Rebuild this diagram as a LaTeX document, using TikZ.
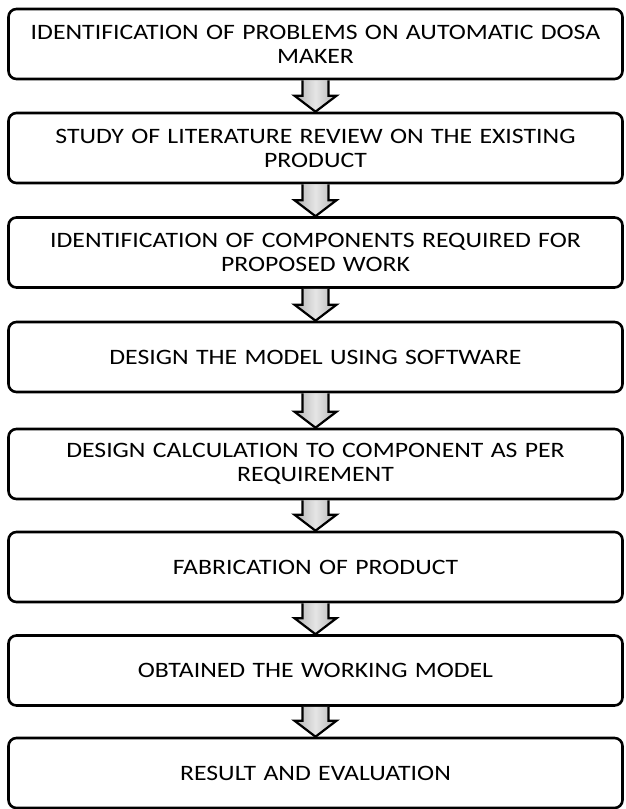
\documentclass[tikz,border=0pt]{standalone}
\usepackage{fontspec}
\setmainfont{Carlito}[FakeStretch=1.17]
\usetikzlibrary{calc}

\begin{document}
\begin{tikzpicture}[x=1pt, y=-1pt,
  box/.style={draw, line width=2.6pt, rounded corners=8pt, minimum width=614pt,
    minimum height=70pt, text width=600pt, align=center, inner sep=0pt,
    font=\fontsize{22}{24}\selectfont},
  blockarrow/.style={draw, line width=2.2pt, line join=miter,
    left color=gray!60, right color=gray!60, middle color=gray!20}]
\useasboundingbox (0,0) rectangle (625,809); % размер картинки
\node[box] (b1) at (315.5,44)    {IDENTIFICATION OF PROBLEMS ON AUTOMATIC DOSA\\ MAKER};
\node[box] (b2) at (315.5,148)   {STUDY OF LITERATURE REVIEW ON THE EXISTING\\ PRODUCT};
\node[box] (b3) at (315.5,252.5) {IDENTIFICATION OF COMPONENTS REQUIRED FOR\\ PROPOSED WORK};
\node[box] (b4) at (315.5,357)   {DESIGN THE MODEL USING SOFTWARE};
\node[box] (b5) at (315.5,464)   {DESIGN CALCULATION TO COMPONENT AS PER\\ REQUIREMENT};
\node[box] (b6) at (315.5,567)   {FABRICATION OF PRODUCT};
\node[box] (b7) at (315.5,670.5) {OBTAINED THE WORKING MODEL};
\node[box] (b8) at (315.5,773)   {RESULT AND EVALUATION};
% стрелки между блоками
\foreach \a/\b in {b1/b2, b2/b3, b3/b4, b4/b5, b5/b6, b6/b7, b7/b8}
  \draw[blockarrow] ($(\a.south)+(-13,0)$) -- ($(\b.north)+(-13,-16)$)
    -- ($(\b.north)+(-21,-16)$) -- (\b.north) -- ($(\b.north)+(21,-16)$)
    -- ($(\b.north)+(13,-16)$) -- ($(\a.south)+(13,0)$);
\end{tikzpicture}
\end{document}
